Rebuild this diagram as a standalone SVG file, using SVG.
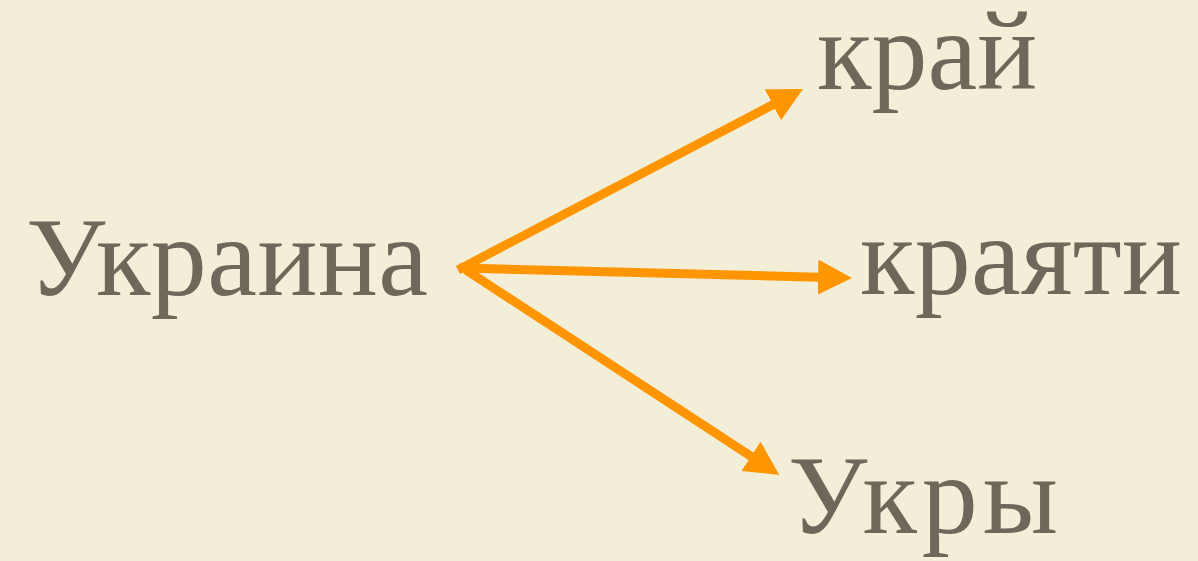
<svg xmlns="http://www.w3.org/2000/svg" width="1198" height="561" viewBox="0 0 1198 561">
  <style>
    .word { font-family: "Liberation Serif", "Times New Roman", serif; font-size: 112px; fill: #6e685b; }
    .conn { stroke: #ff9500; stroke-width: 9; fill: none; stroke-linecap: butt; }
  </style>
  <defs>
    <marker id="head" markerUnits="userSpaceOnUse" markerWidth="40" markerHeight="40" refX="10" refY="17.5" orient="auto">
      <path d="M0,0 L34,17.5 L0,35 Z" fill="#ff9500"/>
    </marker>
  </defs>
  <rect x="0" y="0" width="1198" height="561" fill="#f3eed7"/>
  <g id="connectors">
    <line class="conn" x1="458" y1="270" x2="781.7" y2="100.1" marker-end="url(#head)"/>
    <line class="conn" x1="459" y1="268" x2="828" y2="277.4" marker-end="url(#head)"/>
    <line class="conn" x1="466" y1="270" x2="759.3" y2="461.8" marker-end="url(#head)"/>
  </g>
  <g id="node-ukraina"><text class="word" x="26" y="295" textLength="402">Украина</text></g>
  <g id="node-krai"><text class="word" x="817" y="89">край</text></g>
  <g id="node-krayati"><text class="word" x="860" y="294" textLength="322">краяти</text></g>
  <g id="node-ukry"><text class="word" x="788" y="533" textLength="270">Укры</text></g>
</svg>
